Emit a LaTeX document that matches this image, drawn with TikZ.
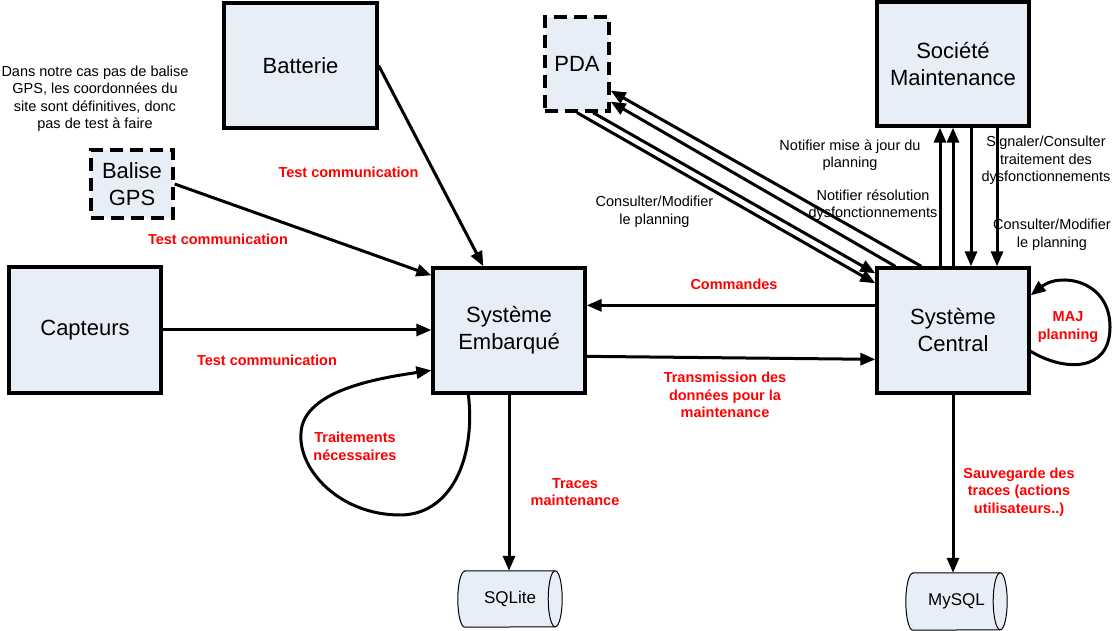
\documentclass[tikz,border=0pt]{standalone}
\usepackage{fontspec}
\setmainfont{Liberation Sans}
\usetikzlibrary{arrows.meta,backgrounds}
\definecolor{boxfill}{RGB}{232,238,248}
\definecolor{lblred}{RGB}{255,0,0}
\begin{document}
\begin{tikzpicture}[x=1pt,y=1pt,
  box/.style={draw, line width=3.3pt, fill=boxfill, inner sep=0pt, align=center, font=\fontsize{22}{27}\selectfont},
  dbox/.style={box, dash pattern=on 13pt off 7pt},
  arr/.style={line width=3pt, -{Triangle[length=15pt,width=12pt]}},
  lbl/.style={align=center, inner sep=0pt, font=\fontsize{14.5}{17.5}\selectfont},
  rlbl/.style={align=center, inner sep=0pt, text=lblred, font=\bfseries\fontsize{14.5}{17.5}\selectfont},
  dbnode/.style={inner sep=0pt, font=\fontsize{17}{20}\selectfont},
  cylline/.style={line width=1pt},
]
\useasboundingbox (0,0) rectangle (1118,631);

% boxes
\node[box, minimum width=153, minimum height=125] (bat) at (300.5,565.5) {Batterie};
\node[dbox, minimum width=82, minimum height=68] (bal) at (132,447) {Balise\\GPS};
\node[box, minimum width=152, minimum height=126] (cap) at (85,301) {Capteurs};
\node[box, minimum width=152, minimum height=125] (emb) at (509,300.5) {Système\\Embarqué};
\node[dbox, minimum width=64, minimum height=94] (pda) at (577,567) {PDA};
\node[box, minimum width=152, minimum height=124] (soc) at (953,567) {Société\\Maintenance};
\node[box, minimum width=152, minimum height=125] (cen) at (953,300.5) {Système\\Central};

% databases
\node[dbnode, minimum width=90, minimum height=56] (sql) at (510,32) {SQLite};
\node[dbnode, minimum width=87, minimum height=57] (mys) at (956.5,29.5) {MySQL};
\begin{scope}[on background layer]
  \draw[cylline, fill=boxfill] (sql.north west) -- (sql.north east)
    arc[start angle=90,end angle=-90,x radius=7,y radius=28] -- (sql.south west)
    arc[start angle=270,end angle=90,x radius=7,y radius=28] -- cycle;
  \draw[cylline] (sql.north east) arc[start angle=90,end angle=270,x radius=7,y radius=28];
  \draw[cylline, fill=boxfill] (mys.north west) -- (mys.north east)
    arc[start angle=90,end angle=-90,x radius=7,y radius=28.5] -- (mys.south west)
    arc[start angle=270,end angle=90,x radius=7,y radius=28.5] -- cycle;
  \draw[cylline] (mys.north east) arc[start angle=90,end angle=270,x radius=7,y radius=28.5];
\end{scope}

% connectors to Systeme Embarque
\draw[arr] (bat.east) -- ([xshift=52pt]emb.north west);
\draw[arr] (bal.east) -- ([yshift=-9pt]emb.north west);
\draw[arr] (cap.east) -- (cap.east -| emb.west);
\draw[arr] ([xshift=37pt]emb.south west) .. controls (476,171) and (450,116) .. (400,116)
  .. controls (340,116) and (298,161) .. (301,198)
  .. controls (303,241) and (380,253) .. ([yshift=-104pt]emb.north west);
\draw[arr] ([yshift=-39pt]cen.north west) -- ([yshift=-39pt]emb.north east);
\draw[arr] ([yshift=-90pt]emb.north east) -- ([yshift=-93pt]cen.north west);
\draw[arr] (emb.south) -- (emb.south |- sql.north);
\draw[arr] (cen.south) -- (cen.south |- mys.north);

% PDA <-> Central
\draw[arr] (pda.south) -- ([yshift=-17pt]cen.north west);
\draw[arr] ([xshift=16pt]pda.south) -- ([yshift=-7pt]cen.north west);
\draw[arr] ([xshift=20pt]cen.north west) -- ([yshift=11pt]pda.south east);
\draw[arr] ([xshift=46pt]cen.north west) -- ([yshift=22pt]pda.south east);

% Societe <-> Central
\draw[arr] ([xshift=-13pt]cen.north) -- ([xshift=-13pt]soc.south);
\draw[arr] (cen.north) -- (soc.south);
\draw[arr] ([xshift=18pt]soc.south) -- ([xshift=18pt]cen.north);
\draw[arr] ([xshift=44pt]soc.south) -- ([xshift=44pt]cen.north);

% MAJ loop
\draw[arr] ([yshift=-85pt]cen.north east) .. controls (1065,259) and (1110,259) .. (1110,304)
  .. controls (1110,351) and (1060,359) .. ([yshift=-29pt]cen.north east);

% labels
\node[lbl] (note) at (95,532) {Dans notre cas pas de balise\\GPS, les coordonnées du\\site sont définitives, donc\\pas de test à faire};
\node[rlbl] (tc1) at (348.5,459) {Test communication};
\node[rlbl] (tc2) at (218,392) {Test communication};
\node[rlbl] (tc3) at (267,271) {Test communication};
\node[rlbl] (cmd) at (734,347) {Commandes};
\node[rlbl] (trans) at (725,236) {Transmission des\\données pour la\\maintenance};
\node[rlbl] (trait) at (355,184.5) {Traitements\\nécessaires};
\node[rlbl] (traces) at (575,139) {Traces\\maintenance};
\node[rlbl] (sauv) at (1019,139) {Sauvegarde des\\traces (actions\\utilisateurs..)};
\node[rlbl] (maj) at (1068,304) {MAJ\\planning};
\node[lbl] (notif1) at (850,476) {Notifier mise à jour du\\planning};
\node[lbl] (notif2) at (873,426) {Notifier résolution\\dysfonctionnements};
\node[lbl] (sign) at (1046,470.5) {Signaler/Consulter\\traitement des\\dysfonctionnements};
\node[lbl] (consr) at (1052,396) {Consulter/Modifier\\le planning};
\node[lbl] (consl) at (654.5,419) {Consulter/Modifier\\le planning};
\end{tikzpicture}
\end{document}
